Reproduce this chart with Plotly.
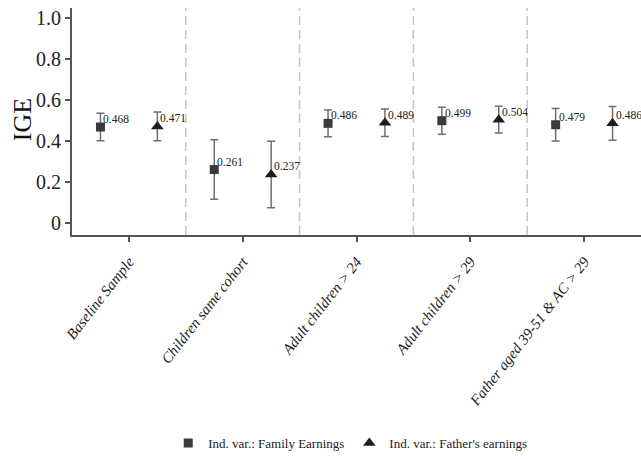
import plotly.graph_objects as go

categories = ["Baseline Sample", "Children same cohort", "Adult children > 24",
              "Adult children > 29", "Father aged 39-51 & AC > 29"]
family_ige = [0.468, 0.261, 0.486, 0.499, 0.479]
family_err = [0.067, 0.145, 0.065, 0.066, 0.079]
father_ige = [0.471, 0.237, 0.489, 0.504, 0.486]
father_err = [0.070, 0.162, 0.067, 0.065, 0.082]
y_ticks = [0, 0.2, 0.4, 0.6, 0.8, 1.0]
y_tick_labels = ["0", "0.2", "0.4", "0.6", "0.8", "1.0"]

pos = list(range(1, len(categories) + 1))
x_fam = [p - 0.25 for p in pos]
x_fat = [p + 0.25 for p in pos]

FONT = "Liberation Serif"
fig = go.Figure()

fig.add_trace(go.Scatter(
    x=x_fam, y=family_ige, mode="markers", name="Ind. var.: Family Earnings",
    marker=dict(symbol="square", size=9, color="#3a3a3a"),
    error_y=dict(type="data", array=family_err, visible=True,
                 color="#6f6f6f", thickness=1.5, width=4),
))
fig.add_trace(go.Scatter(
    x=x_fat, y=father_ige, mode="markers", name="Ind. var.: Father's earnings",
    marker=dict(symbol="triangle-up", size=11, color="#1e1e1e"),
    error_y=dict(type="data", array=father_err, visible=True,
                 color="#6f6f6f", thickness=1.5, width=4),
))

for xs, ys in ((x_fam, family_ige), (x_fat, father_ige)):
    for xv, yv in zip(xs, ys):
        fig.add_annotation(x=xv, y=yv, text=f"{yv:.3f}", showarrow=False,
                           xanchor="left", yanchor="middle", xshift=3, yshift=8,
                           borderpad=0, borderwidth=0,
                           font=dict(family=FONT, size=11.5, color="#222"))

for b in [p + 0.5 for p in pos[:-1]]:
    fig.add_shape(type="line", x0=b, x1=b, y0=0, y1=1, xref="x", yref="paper",
                  line=dict(color="#c4c4c4", width=1.5, dash="9px,5px"))

fig.add_annotation(x=-0.088, y=0.51, xref="paper", yref="paper", text="IGE",
                   showarrow=False, textangle=-90, xanchor="center", yanchor="middle",
                   font=dict(family=FONT, size=26, color="#111"))

fig.update_layout(
    width=641, height=459,
    margin=dict(l=72, r=0, t=8, b=222),
    paper_bgcolor="white", plot_bgcolor="white",
    font=dict(family=FONT, color="#222"),
    showlegend=True,
    legend=dict(orientation="h", x=0.489, xanchor="center", y=-0.917, yanchor="middle",
                font=dict(family=FONT, size=13, color="#222"),
                itemwidth=30, tracegroupgap=0),
    xaxis=dict(range=[0.5, 5.5], tickmode="array", tickvals=pos,
               ticktext=[f"<i>{c}</i>" for c in categories],
               tickangle=-52, showgrid=False, zeroline=False, automargin=False,
               ticklabelstandoff=5,
               showline=True, linecolor="#555", linewidth=2,
               ticks="outside", ticklen=5, tickcolor="#555", tickwidth=1.5,
               tickfont=dict(family=FONT, size=15, color="#222")),
    yaxis=dict(range=[-0.058, 1.048], tickmode="array", tickvals=y_ticks,
               ticktext=y_tick_labels, showgrid=False, zeroline=False, automargin=False,
               showline=True, linecolor="#555", linewidth=2,
               ticks="outside", ticklen=5, tickcolor="#555", tickwidth=1.5,
               tickfont=dict(family=FONT, size=20, color="#222")),
)

# remove the default 8 px page margin so the figure sits at the window's corner
fig.write_html("out.html", config={"displayModeBar": False},
               post_script="document.body.style.margin='0';")
